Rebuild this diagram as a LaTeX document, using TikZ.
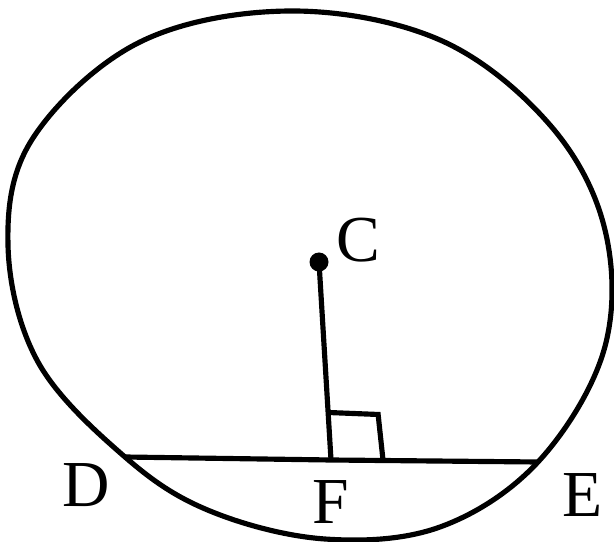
\documentclass[tikz,border=0pt]{standalone}
\usepackage{fontspec}
\setmainfont{Liberation Serif}
\usetikzlibrary{calc}

\begin{document}
\begin{tikzpicture}[x=0.03cm, y=-0.03cm, line width=4.4pt,
    lbl/.style={font=\fontsize{56}{60}\selectfont, inner sep=0pt}]
            \useasboundingbox (0,0) rectangle (614,542);

            \coordinate (C) at (319, 262);
            \coordinate (D) at (125, 457);
            \coordinate (E) at (538, 462);
            \coordinate (F) at (331, 460);

            % the circle, drawn by hand
            \draw plot[smooth cycle, tension=0.6] coordinates {
                (290,11) (440,40) (550,125) (605,230) (604,350) (E)
                (440,527) (325,539) (210,511) (D) (38,362) (8,245)
                (33,138) (140,42)};

            \draw (D) -- (F) -- (E);
            \draw (C) -- (F);
            \draw ($(F)!0.24!(C)$) -- ++(50,2) coordinate (G) -- ($(F)+(52,0)$);
            \fill (C) circle (9.5);

            \node[lbl] (lC) at (358, 240) {C};
            \node[lbl] (lD) at (86, 485) {D};
            \node[lbl] (lF) at (331, 502) {F};
            \node[lbl] (lE) at (583, 495) {E};
        \end{tikzpicture}
\end{document}
